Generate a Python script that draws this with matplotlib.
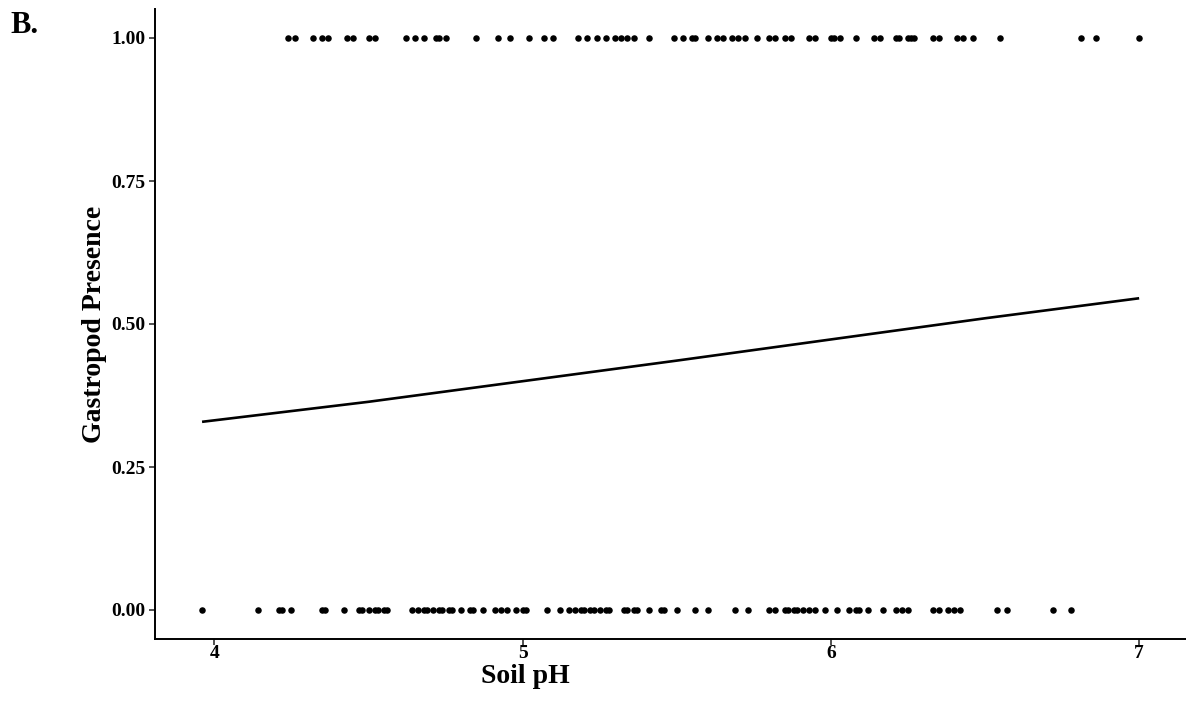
import numpy as np
import matplotlib
matplotlib.use("Agg")
import matplotlib.pyplot as plt

# soil pH of sites where gastropods were found (1) or not found (0)
ph_present = [4.24, 4.26, 4.32, 4.35, 4.37, 4.43, 4.45, 4.50, 4.52, 4.62, 4.65,
              4.68, 4.72, 4.73, 4.75, 4.85, 4.92, 4.96, 5.02, 5.07, 5.10, 5.18,
              5.21, 5.24, 5.27, 5.30, 5.32, 5.34, 5.36, 5.41, 5.49, 5.52, 5.55,
              5.56, 5.60, 5.63, 5.65, 5.68, 5.70, 5.72, 5.76, 5.80, 5.82, 5.85,
              5.87, 5.93, 5.95, 6.00, 6.01, 6.03, 6.08, 6.14, 6.16, 6.21, 6.22,
              6.25, 6.26, 6.27, 6.33, 6.35, 6.41, 6.43, 6.46, 6.55, 6.81, 6.86,
              7.00]
ph_absent = [3.96, 4.14, 4.21, 4.22, 4.25, 4.35, 4.36, 4.42, 4.47, 4.48, 4.50,
             4.52, 4.53, 4.55, 4.56, 4.64, 4.66, 4.68, 4.69, 4.71, 4.73, 4.74,
             4.76, 4.77, 4.80, 4.83, 4.84, 4.87, 4.91, 4.93, 4.95, 4.98, 5.00,
             5.01, 5.08, 5.12, 5.15, 5.17, 5.19, 5.20, 5.22, 5.23, 5.25, 5.27,
             5.28, 5.33, 5.34, 5.36, 5.37, 5.41, 5.45, 5.46, 5.50, 5.56, 5.60,
             5.69, 5.73, 5.80, 5.82, 5.85, 5.86, 5.88, 5.89, 5.91, 5.93, 5.95,
             5.98, 6.02, 6.06, 6.08, 6.09, 6.12, 6.17, 6.21, 6.23, 6.25, 6.33,
             6.35, 6.38, 6.40, 6.42, 6.54, 6.57, 6.72, 6.78]

# fitted probability of presence
fit_ph = [3.96, 4.5, 5.0, 5.5, 6.0, 6.5, 7.0]
fit_prob = [0.329, 0.364, 0.400, 0.436, 0.473, 0.510, 0.545]

xticks = [4, 5, 6, 7]
yticks = [0.00, 0.25, 0.50, 0.75, 1.00]

plt.rcParams['font.family'] = ['Liberation Serif', 'DejaVu Serif']
plt.rcParams['font.weight'] = 'bold'

fig = plt.figure(figsize=(11.86, 7.08), dpi=100)
ax = fig.add_axes([155.2 / 1186, 69.4 / 708, (1186 - 155.2) / 1186, (638.6 - 9.4) / 708])

ax.plot(fit_ph, fit_prob, color='black', lw=1.9, solid_capstyle='butt', zorder=2)
ax.scatter(ph_present, np.ones(len(ph_present)), s=22, color='black', lw=0, zorder=3)
ax.scatter(ph_absent, np.zeros(len(ph_absent)), s=22, color='black', lw=0, zorder=3)

ax.set_xlim(3.808, 7.152)
ax.set_ylim(-0.05, 1.05)
ax.set_xticks(xticks)
ax.set_xticklabels([str(t) for t in xticks])
ax.set_yticks(yticks)
ax.set_yticklabels(['%.2f' % t for t in yticks])

for s in ['top', 'right']:
    ax.spines[s].set_visible(False)
for s in ['left', 'bottom']:
    ax.spines[s].set_linewidth(1.4)
    ax.spines[s].set_color('black')

ax.tick_params(axis='both', length=4, width=1.2, color='#333333',
               labelsize=14, labelcolor='black', pad=3)
ax.tick_params(axis='x', pad=0.5)

ax.set_xlabel('Soil pH', fontsize=20, fontweight='bold')
ax.xaxis.set_label_coords(0.359, -0.040)
ax.set_ylabel('Gastropod Presence', fontsize=20, fontweight='bold', labelpad=3)

fig.text(10 / 1186, 1 - 33 / 708, 'B.', fontsize=22, fontweight='bold')

fig.savefig('out.png', dpi=100)
